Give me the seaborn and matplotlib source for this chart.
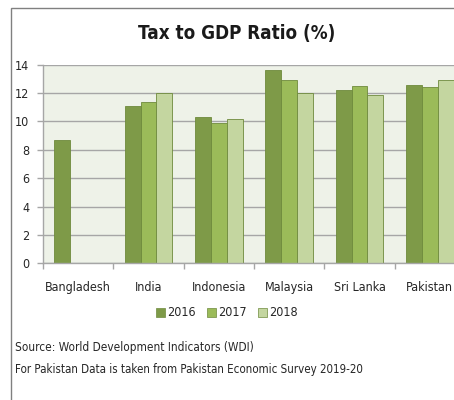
import pandas as pd
import numpy as np
import matplotlib
matplotlib.use("Agg")
import matplotlib.pyplot as plt
import matplotlib.patches as mpatches
import seaborn as sns

# data
countries = ["Bangladesh", "India", "Indonesia", "Malaysia", "Sri Lanka", "Pakistan"]
years = ["2016", "2017", "2018"]
ratio_2016 = [8.7, 11.1, 10.3, 13.6, 12.2, 12.6]
ratio_2017 = [np.nan, 11.4, 9.9, 12.9, 12.5, 12.4]
ratio_2018 = [np.nan, 12.0, 10.2, 12.0, 11.9, 12.9]
yticks = [0, 2, 4, 6, 8, 10, 12, 14]
colors = ["#7E9A48", "#9BBB59", "#C4D6A0"]

df = pd.DataFrame({"country": countries * 3,
                   "year": [y for y in years for _ in countries],
                   "ratio": ratio_2016 + ratio_2017 + ratio_2018})
df = df.dropna()

sns.set_style("white")
plt.rcParams["font.family"] = ["DejaVu Sans"]
plt.rcParams["font.stretch"] = "condensed"

fig = plt.figure(figsize=(4.54, 4.0), dpi=100)
ax = fig.add_axes([0.0947, 0.3417, 0.9295, 0.4965])

sns.barplot(data=df, x="country", y="ratio", hue="year", order=countries,
            hue_order=years, palette=colors, width=0.68, ax=ax,
            edgecolor="#6E8A3C", linewidth=0.6, saturation=1, legend=False)

ax.set_facecolor("#EEF2E8")
ax.set_xlim(-0.5, 5.5)
ax.set_ylim(0, 14)
ax.set_yticks(yticks)
ax.yaxis.grid(True, color="#A6A6A6", linewidth=1)
ax.set_axisbelow(True)
ax.set_xlabel("")
ax.set_ylabel("")
for s in ["top", "right"]:
    ax.spines[s].set_visible(False)
for s in ["left", "bottom"]:
    ax.spines[s].set_color("#A6A6A6")
    ax.spines[s].set_linewidth(1)

ax.set_xticks(np.arange(-0.5, 6, 1), minor=True)
ax.tick_params(axis="x", which="major", length=0, pad=13, labelsize=9, colors="#262626")
ax.tick_params(axis="x", which="minor", length=4, color="#A6A6A6", width=1, direction="out")
ax.tick_params(axis="y", length=4, color="#A6A6A6", width=1, pad=6, labelsize=9, colors="#262626")
ax.tick_params(left=True, bottom=True)
ax.xaxis.set_tick_params(which="minor", bottom=True)

fig.text(0.522, 0.915, "Tax to GDP Ratio (%)", ha="center", va="center",
         fontsize=13.5, fontweight="bold", color="#1a1a1a")

handles = [mpatches.Patch(facecolor=c, edgecolor="#6E8A3C", linewidth=0.5, label=y)
           for c, y in zip(colors, years)]
fig.legend(handles=handles, loc="center", bbox_to_anchor=(0.5, 0.2175), ncol=3,
           frameon=False, fontsize=9, handlelength=0.7, handleheight=0.7,
           handletextpad=0.2, columnspacing=0.9)

fig.text(0.033, 0.13, "Source: World Development Indicators (WDI)",
         ha="left", va="center", fontsize=8.5, color="#262626")
fig.text(0.033, 0.0775, "For Pakistan Data is taken from Pakistan Economic Survey 2019-20",
         ha="left", va="center", fontsize=8.3, color="#262626")

frame = mpatches.Rectangle((0.024, -0.1), 1.1, 1.08, transform=fig.transFigure,
                           fill=False, edgecolor="#808080", linewidth=1)
fig.add_artist(frame)

fig.savefig("out.png", dpi=100)
